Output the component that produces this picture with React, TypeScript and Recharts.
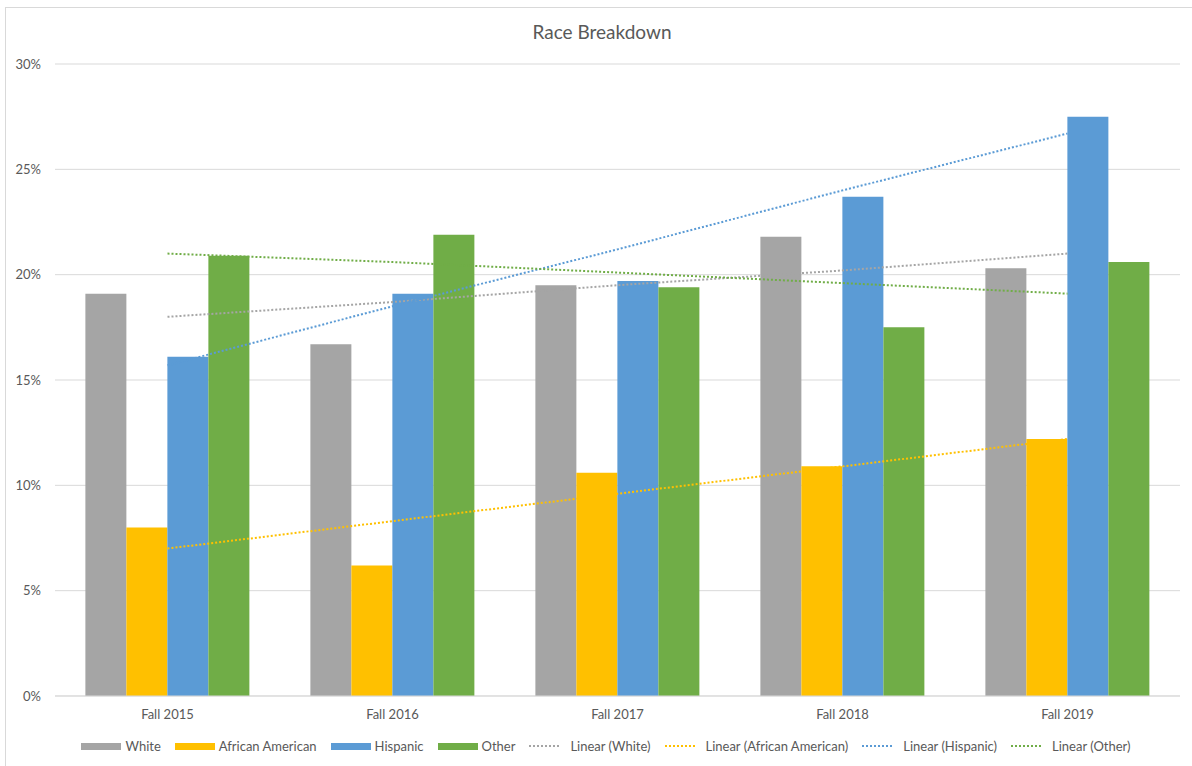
import { Bar, CartesianGrid, ComposedChart, Line, XAxis, YAxis } from "recharts";

const terms = ["Fall 2015", "Fall 2016", "Fall 2017", "Fall 2018", "Fall 2019"];
const white = [19.1, 16.7, 19.5, 21.8, 20.3];
const africanAmerican = [8.0, 6.2, 10.6, 10.9, 12.2];
const hispanic = [16.1, 19.1, 19.7, 23.7, 27.5];
const other = [20.9, 21.9, 19.4, 17.5, 20.6];

// trend lines
const trendWhite = [18.0, 18.7, 19.5, 20.2, 21.0];
const trendAfricanAmerican = [7.0, 8.3, 9.6, 10.9, 12.2];
const trendHispanic = [15.7, 18.5, 21.2, 24.0, 26.7];
const trendOther = [21.0, 20.6, 20.1, 19.6, 19.1];

const yTicks = [0, 5, 10, 15, 20, 25, 30];

const data = terms.map((term, i) => ({
  term,
  white: white[i],
  africanAmerican: africanAmerican[i],
  hispanic: hispanic[i],
  other: other[i],
  trendWhite: trendWhite[i],
  trendAfricanAmerican: trendAfricanAmerican[i],
  trendHispanic: trendHispanic[i],
  trendOther: trendOther[i],
}));

const FONT = "Lato, 'Open Sans', sans-serif";
const TEXT = "#595959";

const legendItems = [
  { label: "White", color: "#a5a5a5", dotted: false },
  { label: "African American", color: "#ffc000", dotted: false },
  { label: "Hispanic", color: "#5b9bd5", dotted: false },
  { label: "Other", color: "#70ad47", dotted: false },
  { label: "Linear (White)", color: "#a5a5a5", dotted: true },
  { label: "Linear (African American)", color: "#ffc000", dotted: true },
  { label: "Linear (Hispanic)", color: "#5b9bd5", dotted: true },
  { label: "Linear (Other)", color: "#70ad47", dotted: true },
];

export default function App() {
  return (
    <div
      style={{
        position: "absolute",
        left: 0,
        top: 0,
        width: 1192,
        height: 766,
        overflow: "hidden",
        background: "#fff",
        fontFamily: FONT,
      }}
    >
      <div
        style={{
          position: "absolute",
          left: 5,
          top: 7,
          width: 1200,
          height: 800,
          borderLeft: "1px solid #d9d9d9",
          borderTop: "1px solid #d9d9d9",
        }}
      />
      <div
        style={{
          position: "absolute",
          left: 0,
          width: 1204,
          top: 20,
          textAlign: "center",
          fontSize: 19,
          color: TEXT,
        }}
      >
        Race Breakdown
      </div>
      <div style={{ position: "absolute", left: 0, top: 0 }}>
        <ComposedChart
          width={1192}
          height={766}
          data={data}
          margin={{ top: 64, right: 12, left: 0, bottom: 40 }}
          barCategoryGap="13.5%"
          barGap={0}
        >
          <CartesianGrid vertical={false} stroke="#d9d9d9" />
          <XAxis
            dataKey="term"
            axisLine={{ stroke: "#d9d9d9" }}
            tickLine={false}
            tickMargin={8}
            height={30}
            tick={{ fill: TEXT, fontSize: 13, fontFamily: FONT }}
          />
          <YAxis
            width={55}
            domain={[0, 30]}
            ticks={yTicks}
            axisLine={false}
            tickLine={false}
            tickMargin={8}
            tickFormatter={(v) => `${v}%`}
            tick={{ fill: TEXT, fontSize: 13, fontFamily: FONT }}
          />
          <Bar dataKey="white" fill="#a5a5a5" isAnimationActive={false} />
          <Bar dataKey="africanAmerican" fill="#ffc000" isAnimationActive={false} />
          <Bar dataKey="hispanic" fill="#5b9bd5" isAnimationActive={false} />
          <Bar dataKey="other" fill="#70ad47" isAnimationActive={false} />
          <Line dataKey="trendWhite" stroke="#a5a5a5" strokeWidth={2} strokeDasharray="2 2" dot={false} activeDot={false} isAnimationActive={false} />
          <Line dataKey="trendAfricanAmerican" stroke="#ffc000" strokeWidth={2} strokeDasharray="2 2" dot={false} activeDot={false} isAnimationActive={false} />
          <Line dataKey="trendHispanic" stroke="#5b9bd5" strokeWidth={2} strokeDasharray="2 2" dot={false} activeDot={false} isAnimationActive={false} />
          <Line dataKey="trendOther" stroke="#70ad47" strokeWidth={2} strokeDasharray="2 2" dot={false} activeDot={false} isAnimationActive={false} />
        </ComposedChart>
      </div>
      <div
        style={{
          position: "absolute",
          left: 0,
          width: 1226,
          top: 738,
          display: "flex",
          justifyContent: "center",
          alignItems: "center",
          fontSize: 13,
          color: TEXT,
          whiteSpace: "nowrap",
        }}
      >
        {legendItems.map((item) => (
          <div
            key={item.label}
            style={{ display: "flex", alignItems: "center", marginRight: 14 }}
          >
            {item.dotted ? (
              <svg width={32} height={4} style={{ marginRight: 9 }}>
                <line x1={0} y1={2} x2={32} y2={2} stroke={item.color} strokeWidth={2} strokeDasharray="2 2" />
              </svg>
            ) : (
              <div style={{ width: 40, height: 7, background: item.color, marginRight: 4 }} />
            )}
            <span>{item.label}</span>
          </div>
        ))}
      </div>
    </div>
  );
}
